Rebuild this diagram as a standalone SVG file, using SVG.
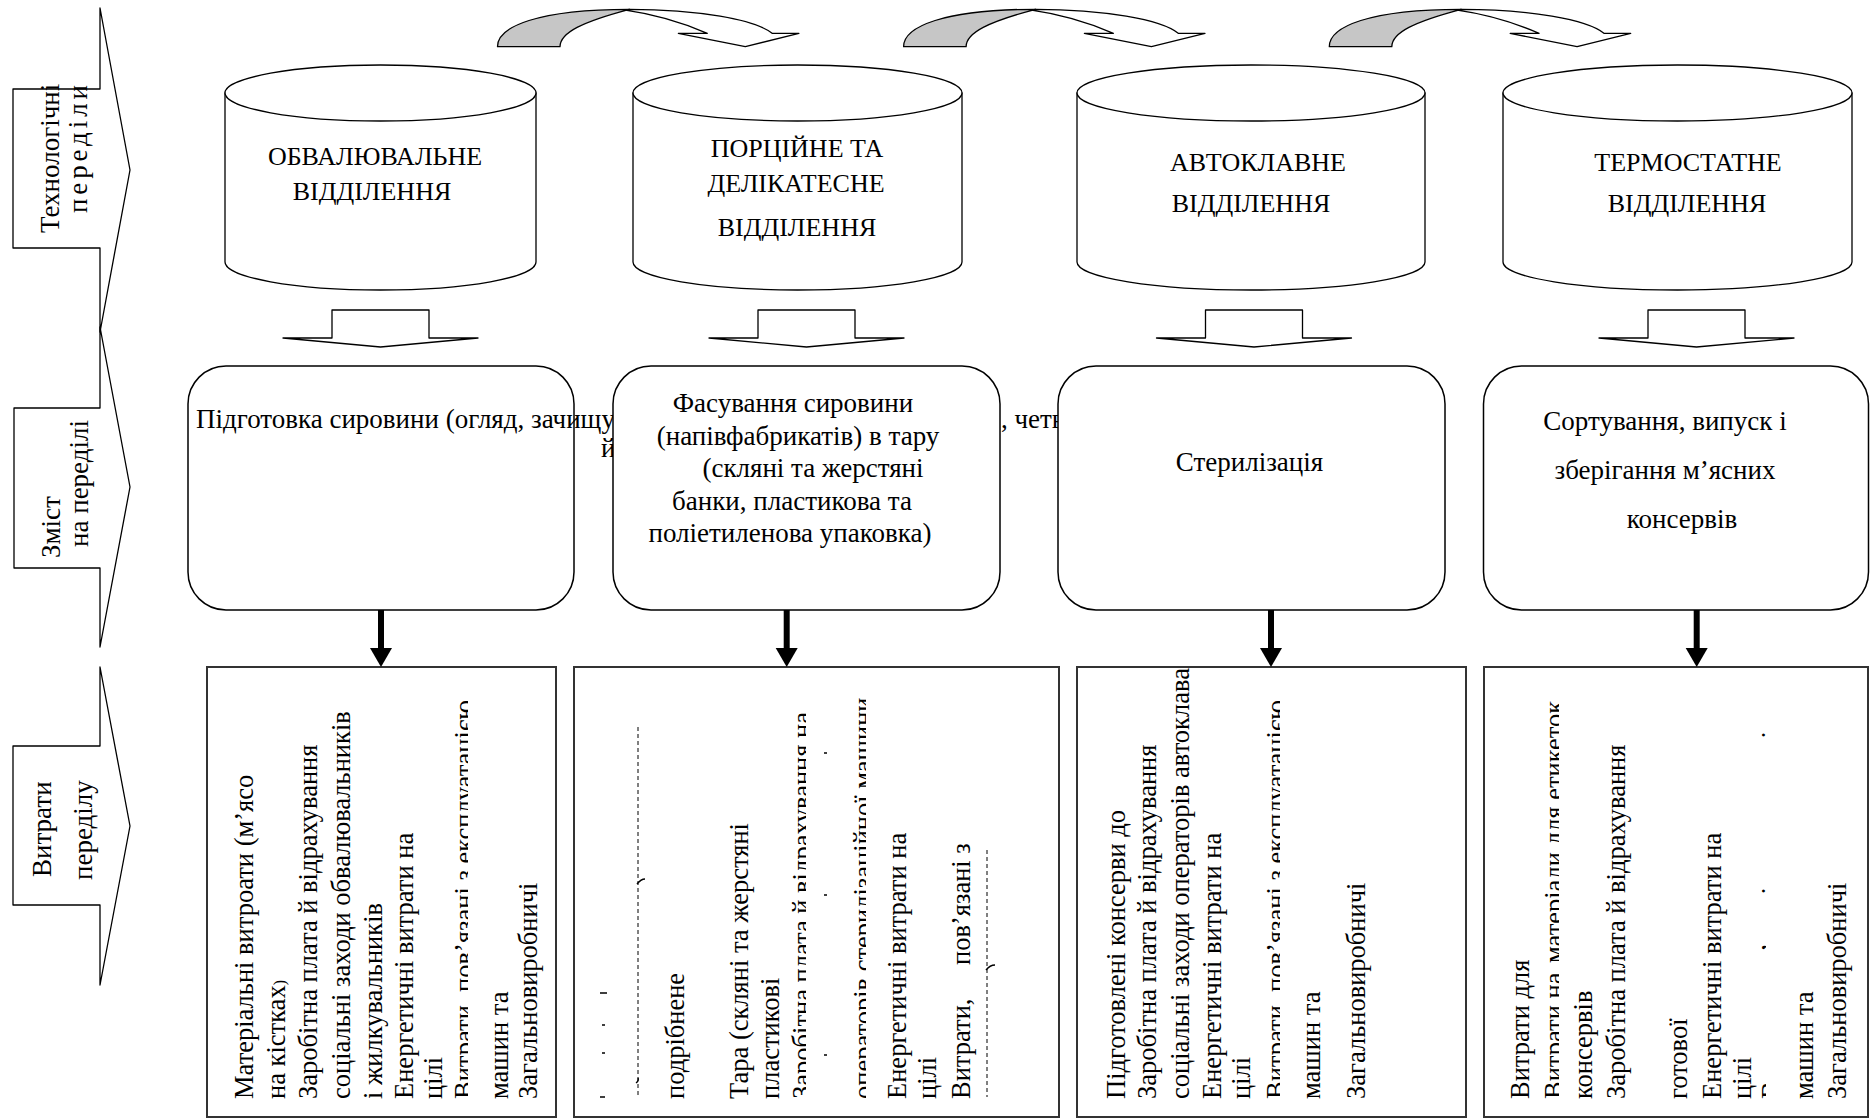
<svg xmlns="http://www.w3.org/2000/svg" width="1870" height="1118" viewBox="0 0 1870 1118">
<style>
text{font-family:"Liberation Serif","Times New Roman",serif;fill:#000}
.lab{font-size:27px}
.cyl{font-size:26px;text-anchor:middle}
.mid{font-size:27px;text-anchor:middle}
.st{font-size:27px}
.v{font-size:26.5px}
.shape{fill:#fff;stroke:#000;stroke-width:1.3;stroke-linejoin:round}
.rbox{fill:#fff;stroke:#000;stroke-width:1.5}
.sbox{fill:#fff;stroke:#333;stroke-width:2}
.back{fill:#c6c6c6;stroke:#000;stroke-width:1.3;stroke-linejoin:round}
.shaft{stroke:#000;stroke-width:6}
.mark{stroke:#000;stroke-width:1.4;fill:none}
.dash{stroke:#000;stroke-width:1;stroke-dasharray:4 3;fill:none}
</style>
<defs>
  <g id="curved">
    <path class="back" d="M0,0 C0,-20 40,-37.4 132,-37.4 C85,-25 62.5,-14 62.5,0 Z"/>
    <path class="shape" d="M132,-37.4 C200,-37.4 258,-27 274.6,-13.4 L301.4,-13.4 L247.8,0 L180.8,-13.4 L209.8,-13.4 C185,-24 160,-32 128,-36.5 Z"/>
  </g>
  <path id="blk" class="shape" d="M-48.5,310 H48.5 V338 H97.5 L0,347 L-97.5,338 H-48.5 Z"/>
  <path id="thk" d="M-11,648 H11 L0,667 Z" fill="#000"/>
  <clipPath id="k1" clipPathUnits="userSpaceOnUse"><rect x="430" y="600" width="38" height="518"/></clipPath>
  <clipPath id="k2" clipPathUnits="userSpaceOnUse"><rect x="770" y="600" width="36" height="518"/></clipPath>
  <clipPath id="k3" clipPathUnits="userSpaceOnUse"><rect x="835" y="600" width="31" height="518"/></clipPath>
  <clipPath id="k4" clipPathUnits="userSpaceOnUse"><rect x="1245" y="600" width="35" height="518"/></clipPath>
  <clipPath id="k5" clipPathUnits="userSpaceOnUse"><rect x="1525" y="600" width="34" height="518"/></clipPath>
  <clipPath id="k6" clipPathUnits="userSpaceOnUse"><rect x="1745" y="600" width="21" height="518"/></clipPath>
</defs>

<!-- Row labels (left block arrows) -->
<g id="label-tech">
  <polygon class="shape" points="13,89 100,89 100,8 130,170 100,332 100,248 13,248"/>
  <text class="lab" transform="translate(59,233) rotate(-90)">Технологічні</text>
  <text class="lab" transform="translate(87,213) rotate(-90)" textLength="128" lengthAdjust="spacing">переділи</text>
</g>
<g id="label-content">
  <polygon class="shape" points="14,408 100,408 100,327 130,487 100,647 100,568 14,568"/>
  <text class="lab" transform="translate(60,558) rotate(-90)">Зміст</text>
  <text class="lab" transform="translate(88,547) rotate(-90)">на переділі</text>
</g>
<g id="label-costs">
  <polygon class="shape" points="13,746 100,746 100,667 130,826 100,985 100,905 13,905"/>
  <text class="lab" transform="translate(51,877) rotate(-90)">Витрати</text>
  <text class="lab" transform="translate(92,880) rotate(-90)">переділу</text>
</g>

<!-- Cylinders -->
<g id="dept-1">
  <path class="shape" d="M225,93 V262 A155.5,28 0 0 0 536,262 V93 Z"/>
  <ellipse class="shape" cx="380.5" cy="93" rx="155.5" ry="28"/>
  <text class="cyl" x="375" y="165">ОБВАЛЮВАЛЬНЕ</text>
  <text class="cyl" x="372" y="200">ВІДДІЛЕННЯ</text>
</g>
<g id="dept-2">
  <path class="shape" d="M633,93 V262 A164.5,28 0 0 0 962,262 V93 Z"/>
  <ellipse class="shape" cx="797.5" cy="93" rx="164.5" ry="28"/>
  <text class="cyl" x="797" y="157">ПОРЦІЙНЕ ТА</text>
  <text class="cyl" x="796" y="192">ДЕЛІКАТЕСНЕ</text>
  <text class="cyl" x="797" y="236">ВІДДІЛЕННЯ</text>
</g>
<g id="dept-3">
  <path class="shape" d="M1077,93 V262 A174,28 0 0 0 1425,262 V93 Z"/>
  <ellipse class="shape" cx="1251" cy="93" rx="174" ry="28"/>
  <text class="cyl" x="1258" y="171">АВТОКЛАВНЕ</text>
  <text class="cyl" x="1251" y="212">ВІДДІЛЕННЯ</text>
</g>
<g id="dept-4">
  <path class="shape" d="M1503,93 V262 A174.5,28 0 0 0 1852,262 V93 Z"/>
  <ellipse class="shape" cx="1677.5" cy="93" rx="174.5" ry="28"/>
  <text class="cyl" x="1688" y="171">ТЕРМОСТАТНЕ</text>
  <text class="cyl" x="1687" y="212">ВІДДІЛЕННЯ</text>
</g>

<!-- Content boxes -->
<g id="content-1">
  <rect class="rbox" x="188" y="366" width="386" height="244" rx="38" ry="38"/>
  <text class="st" x="196" y="428">Підготовка сировини (огляд, зачищу</text>
  <text class="st" x="601" y="457">й</text>
  <text class="st" x="1001" y="428">, четв</text>
</g>
<g id="content-2">
  <rect class="rbox" x="613" y="366" width="387" height="244" rx="38" ry="38"/>
  <text class="mid" x="793" y="412">Фасування сировини</text>
  <text class="mid" x="798" y="445">(напівфабрикатів) в тару</text>
  <text class="mid" x="813" y="477">(скляні та жерстяні</text>
  <text class="mid" x="792" y="510">банки, пластикова та</text>
  <text class="mid" x="790" y="542">поліетиленова упаковка)</text>
</g>
<g id="content-3">
  <rect class="rbox" x="1058" y="366" width="387" height="244" rx="38" ry="38"/>
  <text class="mid" x="1249.5" y="471">Стерилізація</text>
</g>
<g id="content-4">
  <rect class="rbox" x="1483.5" y="366" width="385" height="244" rx="38" ry="38"/>
  <text class="mid" x="1665" y="430">Сортування, випуск і</text>
  <text class="mid" x="1665" y="479">зберігання м’ясних</text>
  <text class="mid" x="1682" y="528">консервів</text>
</g>

<!-- Cost boxes -->
<g id="costs-1">
  <rect class="sbox" x="207" y="667" width="349" height="450"/>
  <text class="v" transform="translate(253,1099) rotate(-90)">Матеріальні витроати (м’ясо</text>
  <text class="v" transform="translate(285,1099) rotate(-90)">на кістках<tspan font-size="16">)</tspan></text>
  <text class="v" transform="translate(316.5,1099) rotate(-90)">Заробітна плата й відрахування</text>
  <text class="v" transform="translate(350,1099) rotate(-90)">соціальні заходи обвалювальників</text>
  <text class="v" transform="translate(382,1099) rotate(-90)">і жилкувальників</text>
  <text class="v" transform="translate(413,1099) rotate(-90)">Енергетичні витрати на</text>
  <text class="v" transform="translate(442,1099) rotate(-90)">цілі</text>
  <g clip-path="url(#k1)"><text class="v" transform="translate(473,1099) rotate(-90)">Витрати, пов’язані з експлуатацією</text></g>
  <text class="v" transform="translate(508,1099) rotate(-90)">машин та</text>
  <text class="v" transform="translate(537,1099) rotate(-90)">Загальновиробничі</text>
</g>
<g id="costs-2">
  <rect class="sbox" x="574" y="667" width="485" height="450"/>
  <path class="mark" d="M600,1097 h5 M602,1053 h3 M602,1025 h3 M600,993 h7"/>
  <path class="dash" d="M638,727 V1095"/>
  <path class="mark" d="M636,1083 q3,-2 2,-5 M637,884 q4,-5 8,-5"/>
  <text class="v" transform="translate(684,1099) rotate(-90)">подрібнене</text>
  <text class="v" transform="translate(748,1099) rotate(-90)">Тара (скляні та жерстяні</text>
  <text class="v" transform="translate(779,1099) rotate(-90)">пластикові</text>
  <g clip-path="url(#k2)"><text class="v" transform="translate(811,1099) rotate(-90)">Заробітна плата й відрахування на</text></g>
  <path class="mark" d="M824,1055 h3 M824,895 h3 M824,753 h3"/>
  <g clip-path="url(#k3)"><text class="v" transform="translate(872,1099) rotate(-90)">операторів стерилізаційної машини</text></g>
  <text class="v" transform="translate(906,1099) rotate(-90)">Енергетичні витрати на</text>
  <text class="v" transform="translate(936,1099) rotate(-90)">цілі</text>
  <text class="v" transform="translate(970,1099) rotate(-90)">Витрати,</text>
  <text class="v" transform="translate(970,965) rotate(-90)">пов’язані з</text>
  <path class="dash" d="M987,850 V1097"/>
  <path class="mark" d="M986,970 q4,-5 9,-5"/>
</g>
<g id="costs-3">
  <rect class="sbox" x="1077" y="667" width="389" height="450"/>
  <text class="v" transform="translate(1125,1099) rotate(-90)">Підготовлені консерви до</text>
  <text class="v" transform="translate(1156,1099) rotate(-90)">Заробітна плата й відрахування</text>
  <text class="v" transform="translate(1189,1099) rotate(-90)">соціальні заходи операторів автоклава</text>
  <text class="v" transform="translate(1221,1099) rotate(-90)">Енергетичні витрати на</text>
  <text class="v" transform="translate(1250,1099) rotate(-90)">цілі</text>
  <g clip-path="url(#k4)"><text class="v" transform="translate(1285,1099) rotate(-90)">Витрати, пов’язані з експлуатацією</text></g>
  <text class="v" transform="translate(1320,1099) rotate(-90)">машин та</text>
  <text class="v" transform="translate(1365,1099) rotate(-90)">Загальновиробничі</text>
</g>
<g id="costs-4">
  <rect class="sbox" x="1484" y="667" width="384" height="450"/>
  <text class="v" transform="translate(1529,1099) rotate(-90)">Витрати для</text>
  <g clip-path="url(#k5)">
    <text class="v" transform="translate(1563,1099) rotate(-90)">Витрати на</text>
    <text class="v" transform="translate(1563,963) rotate(-90)">матеріали для етикеток</text>
  </g>
  <text class="v" transform="translate(1592,1099) rotate(-90)">консервів</text>
  <text class="v" transform="translate(1625,1099) rotate(-90)">Заробітна плата й відрахування</text>
  <text class="v" transform="translate(1687,1099) rotate(-90)">готової</text>
  <text class="v" transform="translate(1721,1099) rotate(-90)">Енергетичні витрати на</text>
  <text class="v" transform="translate(1751,1099) rotate(-90)">цілі</text>
  <g clip-path="url(#k6)"><text class="v" transform="translate(1780,1099) rotate(-90)">Витрати, пов’язані з експлуатацією</text></g>
  <text class="v" transform="translate(1813,1099) rotate(-90)">машин та</text>
  <text class="v" transform="translate(1846,1099) rotate(-90)">Загальновиробничі</text>
</g>

<!-- Connectors -->
<g id="connectors">
  <use href="#curved" transform="translate(497.5,46.7)"/>
  <use href="#curved" transform="translate(903.6,46.7)"/>
  <use href="#curved" transform="translate(1329.3,46.7)"/>
  <use href="#blk" x="380.5"/>
  <use href="#blk" x="806.5"/>
  <use href="#blk" x="1254"/>
  <use href="#blk" x="1696.5"/>
  <line class="shaft" x1="381" y1="610" x2="381" y2="650"/>
  <use href="#thk" x="381"/>
  <line class="shaft" x1="786.7" y1="610" x2="786.7" y2="650"/>
  <use href="#thk" x="786.7"/>
  <line class="shaft" x1="1271" y1="610" x2="1271" y2="650"/>
  <use href="#thk" x="1271"/>
  <line class="shaft" x1="1696.7" y1="610" x2="1696.7" y2="650"/>
  <use href="#thk" x="1696.7"/>
</g>
</svg>
